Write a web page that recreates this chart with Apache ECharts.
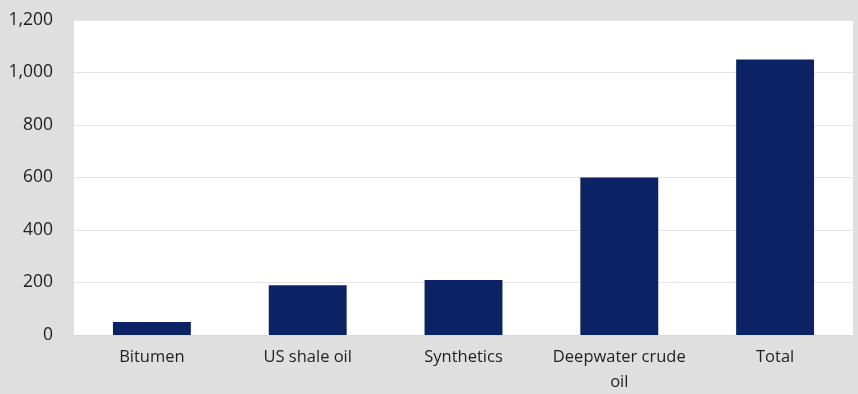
<!DOCTYPE html>
<html>
<head>
<meta charset="utf-8">
<script src="https://cdn.jsdelivr.net/npm/echarts@6/dist/echarts.min.js"></script>
<style>
  html, body { margin: 0; padding: 0; background: #dfdfdf; }
  #chart { width: 858px; height: 394px; }
</style>
</head>
<body>
<div id="chart"></div>
<script>
const categories = ['Bitumen', 'US shale oil', 'Synthetics', 'Deepwater crude\noil', 'Total'];
const values = [50, 190, 210, 600, 1050];

let myChart = echarts.init(document.getElementById('chart'));

let option = {
    backgroundColor: '#dfdfdf',
    textStyle: { fontFamily: 'Open Sans' },
    grid: {
        left: 74, right: 5, top: 20, bottom: 59,
        outerBoundsMode: 'none',
        show: true, backgroundColor: '#ffffff', borderWidth: 0
    },
    xAxis: {
        type: 'category',
        data: categories,
        axisLine: { show: true, lineStyle: { color: '#d9d9d9', width: 1 } },
        axisTick: { show: false },
        axisLabel: { color: '#1e1e1e', fontSize: 16.5, margin: 9.5, lineHeight: 25, interval: 0 }
    },
    yAxis: {
        type: 'value',
        min: 0,
        max: 1200,
        interval: 200,
        axisLine: { show: false },
        axisTick: { show: false },
        splitLine: { lineStyle: { color: '#e6e6e6', width: 1 } },
        axisLabel: {
            color: '#1e1e1e', fontSize: 17.5, margin: 21,
            formatter: v => v.toLocaleString('en-US')
        }
    },
    series: [{
        type: 'bar',
        data: values,
        barWidth: '50%',
        itemStyle: { color: '#0b2265' }
    }]
};

myChart.setOption(option);
</script>
</body>
</html>
